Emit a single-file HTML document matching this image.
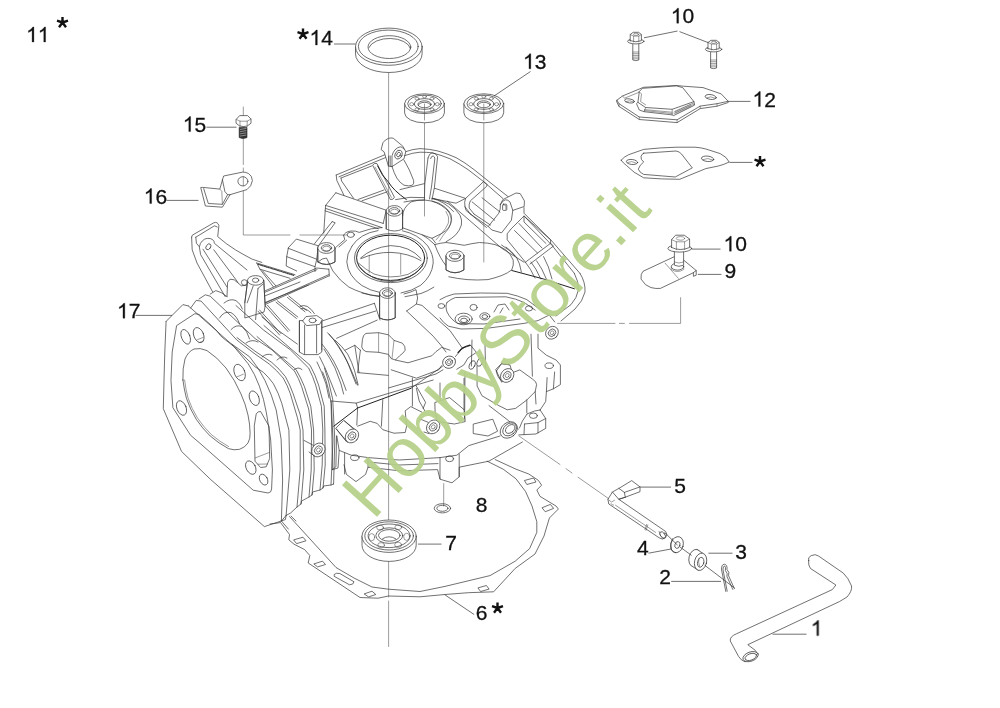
<!DOCTYPE html>
<html>
<head>
<meta charset="utf-8">
<title>Parts diagram</title>
<style>
html,body{margin:0;padding:0;background:#fff;}
body{width:1000px;height:708px;overflow:hidden;position:relative;font-family:"Liberation Sans",sans-serif;}
svg{position:absolute;left:0;top:0;display:block;}
.l{fill:none;stroke:#333;stroke-width:0.7;stroke-linejoin:round;stroke-linecap:round;}
.t{fill:none;stroke:#4a4a4a;stroke-width:0.55;stroke-linejoin:round;stroke-linecap:round;}
.w{fill:#fff;stroke:#333;stroke-width:0.7;stroke-linejoin:round;stroke-linecap:round;}
.ld{fill:none;stroke:#333;stroke-width:0.7;}
.n{font-family:"Liberation Sans",sans-serif;font-size:21px;fill:#111;stroke:#111;stroke-width:0.3;}
.g1{fill:#111;stroke:#111;stroke-width:28;}
.a{fill:none;stroke:#111;stroke-width:2.4;stroke-linecap:butt;}
#labels{opacity:0.999;}
</style>
</head>
<body>
<svg width="1000" height="708" viewBox="0 0 1000 708">
<defs>
<g id="ast"><path class="a" d="M0,0V-5.6M0,0L5.5,-1.8M0,0L-5.5,-1.8M0,0L3.5,4.7M0,0L-3.5,4.7"/></g>
</defs>
<rect width="1000" height="708" fill="#fff"/>

<!-- ENGINE BLOCK -->
<g id="block">
<!-- ===== left ear / arm ===== -->
<g class="l">
<path d="M191.6,237.2Q191.3,235 194,234.2L213.8,222.8Q217.5,221.2 218.9,225.6L217.7,236.6Q226,244 235.4,249.8Q244,255 252.2,259.2L261.8,262.4"/>
<path d="M195.8,237.2L214.4,225.8L217.2,227M195.8,237.2L196.4,243.2L199.4,246.8Q200,243 202.4,240.8Q204.5,238.6 207.2,238.4Q210.5,238 212.6,239.6Q214.5,241 214.4,243.2"/>
<path d="M191.6,237.2L192.2,249.8L197,263L212.6,291.8"/>
<path d="M199.4,247.2L200.6,254.6L225.2,296.6M203,249.2L227,287"/>
<ellipse cx="208.4" cy="246.8" rx="2.2" ry="3.2" transform="rotate(35 208.4 246.8)"/>
<path d="M213.8,249.8L237.8,282.2M215,243.8L247,270"/>
<path d="M227,296.6L227.6,282.2L230,279.2L234.2,279.8L241.4,285.8L246.2,285.2"/>
<ellipse cx="244.4" cy="282.5" rx="3" ry="2.8"/>
<!-- ribbed edge -->
<path d="M256.7,263L295,274.7M260,269.2L290,278.3M256.7,263L260,269.2L273.3,286.7M262.5,270.8L276,286"/>
<path stroke-dasharray="0.9,1.1" stroke-width="1.3" stroke="#444" d="M258.4,264.4L294,275.4"/>
</g>
<!-- post near cylinder -->
<g>
<path class="w" d="M247.6,281L244.8,303V318L264,312L265.2,306L263.8,281Z" stroke="none"/>
<path class="l" d="M247.6,281L244.8,302.8M263.8,281L265.2,306.4M258,288.4L255.6,319.6M253.2,286L247.2,302.8M258,288.4L263,284"/>
<ellipse class="w" cx="255.6" cy="280.4" rx="8.1" ry="4.8"/>
<ellipse class="l" cx="255.6" cy="280.2" rx="3.2" ry="2.2"/>
</g>
<!-- rails from post to crankcase -->
<g class="l">
<path d="M265.2,290.8L316.8,268L328.8,269.2M265.2,292.2L317,269.6M265.8,302.8L328.8,274.6M265.8,304.2L328.8,276M328.8,269.2L329.4,276"/>
<!-- small box -->
<path d="M296.7,239.2L318.3,245.8L316.7,259.2L288.3,248.3ZM288.3,248.3L286.7,256.7L315,266.7L316.7,259.2M286.7,256.7L286.2,266L296.7,271M315,266.7V271.5"/>
<!-- rod -->
<path d="M332.2,221.6L335.2,222.8L318.4,245.8M332.2,221.6L314.6,243.6"/>
</g>
<!-- boss near small box -->
<g>
<path class="w" d="M317.8,248V262Q326.5,267 335,262V248Z" stroke="none"/>
<path class="l" d="M317.8,248V262Q326.5,266.8 335,262V248"/>
<ellipse class="w" cx="326.4" cy="248" rx="8.6" ry="5.4"/>
<ellipse class="l" cx="326.4" cy="248" rx="5.2" ry="3.3"/>
<ellipse class="t" cx="326.6" cy="248.6" rx="4" ry="2.4"/>
</g>
<!-- lug with small hole -->
<g class="l">
<ellipse cx="350.8" cy="234.8" rx="3.6" ry="2.6"/>
<path d="M343.6,235.4Q344.5,232 350.8,231Q356,230.6 359.2,232.4L371.2,228.8L382,227.6"/>
<path d="M343.6,235.4L344.8,239.6L336.4,246.8M346.6,240.2L339,247"/>
</g>
<!-- angled bar -->
<g class="l">
<path d="M335.8,192.8L386.2,210.2M335.8,192.8L325.6,205.4L383.2,223.4M325.6,208.4L382,227.6M325,210.8L378.4,228.8M325.6,205.4L324.4,222.8L323.8,233"/>
<path d="M386.2,210.2L383.2,223.4"/>
</g>
<!-- upper slab -->
<g class="l">
<path d="M336.2,175L386.6,154M336.2,175L336.8,180.4L344,195.4M341,178L371.6,166M341,178L341.6,181L353.6,198.4M339,176.8L385.5,157.6"/>
<path d="M362,200.8L387.2,191.8M358,199.5L384,190"/>
<path d="M372.8,164.8Q374.5,162.6 377,163.6L394.4,197.2Q393.5,200 390.8,199.6Z"/>
<path d="M375,167L391.4,197.4" class="t"/>
<path stroke="#222" stroke-width="1" d="M377.6,166Q382,176 388.4,182Q393,190 406.4,199.6"/>
</g>
<!-- top lug -->
<g>
<path class="w" d="M381.2,149.2L383,142.6Q385,139.6 388.4,138.4Q391,137.6 393.2,138.2L402.8,146.2L405.8,151.6L404,158.8L392,166.6L388.4,166L386.6,160L384.2,152.2Z"/>
<path class="l" d="M392,166.6L392,155.8Q393,152 395,149.8Q397.5,147.2 400.4,146.8Q402.6,147 404,149.2M388.4,166L388.7,156M390.2,166.4V156"/>
<ellipse class="l" cx="398.6" cy="154.6" rx="3.4" ry="4.6" transform="rotate(25 398.6 154.6)"/>
<ellipse class="l" cx="398.6" cy="154.6" rx="1.7" ry="2.4" transform="rotate(25 398.6 154.6)"/>
</g>
<!-- rim arcs -->
<g class="l">
<path d="M405.8,151.6Q413,149 420,148.6Q430,149 438,151Q447,153.6 456,157.6Q465,162.5 474,169.6L492,184L508.8,197.2"/>
<path d="M404.6,155.6Q413,152.6 420,152.2Q427,152.2 432,152.8Q441,155 450,158.8Q459,163.4 468,169.6L483.6,181.6L502.8,198.4"/>
<!-- pocket under lug -->
<path d="M392,166.6Q394,173 396.8,178Q400,183 404,185.2Q409,186.6 412.4,185.2Q414.4,183.6 413.6,180.4Q410,170 404,160"/>
<!-- U rib -->
<path d="M428,158Q429,153.5 432,152.8Q435.8,152.8 437.6,156.6L434.4,187.6L432,199.6M428,158L424.8,184L424.4,199.6M430.6,158.6Q431.6,155.6 433.2,156Q434.8,156.6 434.8,158.8L431.6,186L429.5,199"/>
<!-- panel right of rib -->
<path d="M434.4,188.2L465.6,198.4L456,203.2L432,198.4"/>
<!-- Y rib -->
<path d="M483.6,181.6L465.6,198.4Q464,202 465,206.8L470.4,214M483.6,181.6L487.2,184.6L486.6,186.4L470.4,200.8Q468.6,204 469.2,208L474,214"/>
<!-- arcs left of rib -->
<path d="M400,189.6L424.5,183.6M395.6,199.6Q410,196 424.4,197.6M404,202Q414,199.6 424.4,200"/>
<path d="M432,198.4Q444,201 453.6,211.6M432,201.2Q442,204 449,212"/>
</g>
<!-- right lug -->
<g>
<path class="w" d="M500.4,204.4L502.8,199.6L508.8,196.6L516,193L520.2,193.6L524.4,200.8L524.2,206.5L512.8,210.4L510,202Q508,199.6 505.5,199.8Q502.5,200.6 501.5,203Z"/>
<path class="l" d="M500.4,204.4L500.2,209L498.8,213.2L488.3,226.5L491.8,230L501.6,232.8L511.4,220.2L512.8,210.4"/>
<rect class="l" x="502.6" y="204.2" width="4.2" height="6.2" rx="1"/>
<path class="t" d="M503.6,205.2H505.8V209.4"/>
</g>
<!-- ===== central flange & bore ===== -->
<g class="l">
<!-- flange outer (partial ellipse) -->
<path d="M352,246Q360,233.5 378,230.6M402.5,230.8Q418,234 427.8,246Q433.6,255 433.2,263Q432,276 420.8,285.2Q412,291 401,293"/>
<path d="M352,246Q346.6,254 346.8,262Q348,276 362,285.6Q370,290.6 379.6,292.4"/>
<ellipse cx="390.9" cy="258.1" rx="36.4" ry="24.5"/>
<ellipse cx="390.6" cy="257.8" rx="34" ry="22.6" stroke="#222" stroke-width="1"/>
<path d="M357.6,262.4Q366,270 374,274Q390,279.6 408,274.4Q418,270 424,262" stroke-width="0.6"/>
<path d="M358.6,266Q372,282 392,281.6Q412,280 422.6,266" />
<path d="M360.6,258Q372,247.6 390.5,245.6Q410,246 421,258.6"/>
<path d="M361,258.6Q376,252 391,252.4Q408,253 421,260.6"/>
<path d="M369.2,255.3V272.8M400.7,254.4V274.2" class="t"/>
</g>
<g class="l"><path d="M318,262Q322,258 326.5,258L332.9,271Q340,281 348.9,287.1Q362,294 379.4,296.7M433.9,287.1Q428,291 421,293.5L405,296.7"/></g>
<!-- top boss -->
<g>
<path class="w" d="M386.2,211V229Q394.4,233 402.6,229V211Z" stroke="none"/>
<path class="l" d="M386.2,211V229M402.6,211V229"/>
<ellipse class="w" cx="394.4" cy="210.9" rx="8.2" ry="5.3"/>
<ellipse class="l" cx="394.4" cy="210.9" rx="5.3" ry="3.3"/>
<ellipse class="t" cx="394.6" cy="211.6" rx="4" ry="2.3"/>
</g>
<!-- bottom boss -->
<g>
<path class="w" d="M379.6,293V318Q387.4,322 395.2,318V293Z" stroke="none"/>
<path class="l" d="M379.6,293V318Q387.4,321.6 395.2,318V293"/>
<ellipse class="w" cx="387.4" cy="293.1" rx="7.8" ry="5.3"/>
<ellipse class="l" cx="387.4" cy="293.1" rx="5" ry="3.3"/>
<ellipse class="t" cx="387.6" cy="293.8" rx="3.8" ry="2.3"/>
</g>
<!-- left bearing seat -->
<g class="l">
<path d="M402.6,216Q402.6,208 411,201.9Q418,199.6 425,200.1Q433,200.6 439,203.3Q445,206.4 448.8,211Q452,215 451.6,219.4Q451,224 448.8,227.8Q446,231 441.8,233.4L432,238.3L422.2,234.8L402.6,227.8"/>
<path d="M433.4,198.4Q442,200.4 448.8,204Q456,208.6 460,215.2Q462.4,220 461.4,225Q459.6,230.6 455.8,234.8Q451.6,238.8 446,241.8"/>
<path class="t" d="M446,211.5Q450,217 448.4,223Q446,229 441,234L436,240M447.4,210Q452.6,217 450.6,224Q448,230.5 443.4,235L439.5,241"/>
<path d="M432,238.3L435.6,243M422.2,234.8Q428,238 434.8,244.6"/>
</g>
<!-- right bearing seat -->
<g class="l">
<path d="M434.8,244.6Q440,243 446,242.5Q455,243.6 464.2,245.3Q472,243.4 479.6,242.5Q488,242.8 495,244.6Q501,246.6 506.2,250.2Q511,254.6 513.2,260Q514,265 511.8,269.8Q508,273 502,275.4Q495,278 488,279.6Q477,280.4 467,279.6Q457,278.6 448.8,276.8"/>
<path d="M434.8,244.6Q437,251 440.4,257.2Q443,262 446,265.6"/>
<path stroke="#222" stroke-width="1" d="M511.8,270.5L543.6,279L574.4,288.8"/>
<path d="M447.4,201.2L501.6,248.2L524,262.2"/>
<path d="M506,247Q512,251.6 516.4,257.2Q520,263 521.4,272M501.6,245Q510,250 515,256M525.4,262.2Q530.6,268.4 535,278M531,262Q536,268 540.8,279M536.6,260.8Q542,268 546.4,279M543.6,256.6Q549,266 552,279"/>
</g>
<!-- right boss -->
<g>
<path class="w" d="M446,256V270Q455,275.6 463.9,270V256Z" stroke="none"/>
<path class="l" d="M446,256V270Q455,275.4 463.9,270V256"/>
<ellipse class="w" cx="455" cy="255.8" rx="9" ry="5.6"/>
<ellipse class="l" cx="455" cy="255.8" rx="5.6" ry="3.3"/>
<ellipse class="t" cx="455.2" cy="256.5" rx="4.2" ry="2.3"/>
</g>
<!-- right housing wall -->
<g class="l">
<path d="M524,207.6L524,213.2L552,241.2L580,273.4M525.4,217.4L552,245.4L574.4,273.4"/>
<path d="M511.4,228.6L524,216L550.6,239.8V243.3L525.4,262.2L507.2,239.8V234.2Z"/>
<path d="M514.5,230.5L537.5,253M524,216V222L546,243.5M519,223.5L542,248"/>
<path d="M550.6,243.3L553.5,246L530,264"/>
<!-- channel next to Y rib -->
<path d="M470.4,214L488.3,226.5M474,214L490.4,225M465,206.8L466,210.4L486.4,227.4M472.2,202L494.6,220.2M482,197.8L500,212"/>
</g>
<!-- ===== CYLINDER ===== -->
<g class="l">
<!-- head plate outer -->
<path d="M166.1,321.4L164.8,352L164,380L163.3,408.7L181.5,451.4L210.2,479.1L264.4,526.6L281.2,521L285.4,519.6L286.1,515.4"/>
<path d="M166.1,321.4L182.9,304.6L188.5,306"/>
<!-- head plate inner face -->
<path d="M171,380L172.2,352L176.6,325.6L194.8,313.7L199,314.4L211.6,325.6L217.2,331.2Q220,336 224.2,338.9L234,346.6L248.2,363.8Q255,374 259.4,386.2Q264,399 266.4,412.8L270.6,439L272.4,470L271.6,489Q271.5,492.6 268,493L253.2,490.2L200,443.3L190.6,435.3L173.1,408Z"/>
<!-- bore -->
<path d="M182.9,380Q184,389 186.4,398.2Q190,409 196.2,419.2Q202,428 210.2,436Q219,443.6 228.4,448.6Q234,450.6 239.6,449.3Q245,447.5 248,443Q250.4,438.6 250.1,433.2Q250,424 248,415Q245.6,404 241,394Q235,380 226,368Q217,357 207,350.6Q200,347.4 194,349Q188,351.6 185,359Q182.4,368 182.9,380Z"/>
<path class="t" d="M184.6,380Q185.6,389 188,398Q191.6,408.6 197.6,418.2Q203.6,427 211.4,434.6Q219.6,441.6 228.6,446.6"/>
<!-- holes -->
<ellipse cx="185.7" cy="336.8" rx="4.2" ry="7.7" transform="rotate(-22 185.7 336.8)"/>
<ellipse cx="198.7" cy="335.1" rx="4.9" ry="7.9" transform="rotate(-22 198.7 335.1)"/>
<path class="t" d="M196.6,340L203.2,337.4M199,342.6L203.6,340.8"/>
<ellipse cx="239.6" cy="372.5" rx="5.2" ry="8.6" transform="rotate(-22 239.6 372.5)"/>
<path class="t" d="M236.6,377L243.4,374.2"/>
<ellipse cx="254.3" cy="398.2" rx="4.6" ry="7.6" transform="rotate(-22 254.3 398.2)"/>
<ellipse cx="181.5" cy="408" rx="4.6" ry="7.6" transform="rotate(-22 181.5 408)"/>
<ellipse cx="250.8" cy="467.6" rx="4.6" ry="7.2" transform="rotate(-28 250.8 467.6)"/>
<ellipse cx="263.6" cy="479.6" rx="3.8" ry="5.8" transform="rotate(-28 263.6 479.6)"/>
<!-- slot -->
<path d="M256.4,413.6Q258,411 260.6,411.5L269,426.2L269.7,458.4L266.2,466.8L260.6,467.5L255,461.2L254.3,426.2Z"/>
<path class="t" d="M255,458L269.4,452.4M258,464.2L267.6,464"/>
</g>
<!-- fins -->
<g class="l">
<path d="M188.5,306L230,342.8L249.6,356.8Q259,368 265,380.6Q272,395 276.2,410L281.1,439.1L282.6,480L281.4,521"/>
<path d="M232,344.6L255,366.7L263.5,372.4Q269,377.6 273.4,383.7Q278.6,393 281.8,403.4L288.9,430L289.8,470L286.1,515.4"/>
<path d="M190.6,308.1L196.2,300.4L201.1,301.1L236.8,340L255,354L269.1,363.9Q277,370.4 283.2,378Q287.6,385.6 290.3,393.6L297.4,417.6L300.2,430L300.2,470L297,507"/>
<path d="M237,337.6L255,351.2L271.9,362.5Q279.6,369 285.4,376.6Q290,385 293.1,393.6L300.2,414.7L303,430L303.8,470L301,504"/>
<path d="M199,299L205.3,294.8L210.2,296.2L255,338.5L271.9,349.8L294.5,371Q298.8,378.6 301.6,386.5L308.7,409.1L311.5,430L311.2,470L309,497"/>
<path d="M257,336.6L259.2,338.5L296,369.5Q301,378 304.4,386.5L310.8,406.3L313.6,430L314.2,470L312,495"/>
<path d="M210.2,294.1L215.8,290.6L221.4,292.7L227,296.6M236,305.6L263.5,330L290.3,349.8L308.7,368.1Q313,376.6 315.7,385.1L321.4,406.3L322.8,430L322.2,465L320,490"/>
<path d="M264,325.6L269.1,330L310.1,365.3Q315.4,375 318.6,385.1L324.2,406.3L324.9,430L325.2,465L323,488"/>
<path d="M262,317L277.6,330L297.4,344.1M322.6,372Q326.4,380 328.4,389.3L331.3,403.4L333,440L331,485"/>
<path d="M324.5,368Q329,381 332.7,399.2L334.8,440L333.6,484"/>
<!-- fin bottoms -->
<path d="M281.4,521L286.1,515.4L290.6,513L297,507L301,504L301.6,501L309,497L312,495L312.6,492L320,490L323,488L323.6,486L331,485L333.6,484"/>
<!-- barrel bumps between fins -->
<path d="M219.5,318Q224,310.6 231,312.6Q237,316 239.6,324M231,329.6Q236,324 242,326.6Q247.6,331 249.6,339M246,343Q252,338.6 258,342M224,303Q230,298 236,300.6Q241,304 242.4,309"/>
<path d="M262,357Q267,352.6 272,355M277,360Q282,355 287,358M294,370Q298,366 302,369.6"/>
</g>
<!-- top of cylinder: small fins and rails -->
<g class="l">
<path d="M265,302.5L308.4,285M264.6,296L300,282"/>
<path d="M258,311.2L279.6,335M259.6,310L281,333.6M265.8,306.4L288,331.6M267.4,305.2L289.6,330.4M276,302.2L296.4,318.4M277.4,300.8L297.8,317M287.4,297.4L305,311.8M288.8,296L306.4,310.4"/>
<path d="M300,306.4Q303.6,304.6 307.2,306.4Q311.6,309 314.4,313.6M301,308.6Q306,307.6 311,313"/>
<path d="M321,321.4L374.4,303.3M321.2,327.8L375.8,311M336.6,338.3L377.2,320.1M374.4,303.3L380,320"/>
<!-- curved fins behind post 2 -->
<path d="M327.5,332.7Q334,339 338,346Q344,355 349.2,365.6L357.6,385.2M329,334Q340,346 347,361L356,384"/>
<path d="M319.6,356.8Q326,369 330.8,382L336.4,396M321,342.8Q328,351 333.6,361Q338.6,370 342,379.2L346.2,390.4M335,340Q342,346 347.6,354Q352,362 354.6,370.8L358.1,384.8"/>
<path d="M317,362Q322,372 326,384L329,398M324,349Q330,358 335,368L341,384L343.6,394"/>
</g>
<!-- post 2 -->
<g>
<path class="w" d="M299.4,321V352L304,354.6H318L321.8,352V321Z" stroke="none"/>
<path class="l" d="M299.4,321V352M321.8,321V350M304.6,325V354M316.6,325V353"/>
<path class="w" d="M302.8,320.6L306,316.6L316.8,315.6L322.4,319.4L319.6,324.4L307,325.6Z"/>
<ellipse class="l" cx="312.6" cy="320.4" rx="3.6" ry="2.3"/>
</g>
<!-- ===== crankcase interior & lower ===== -->
<g class="l">
<!-- cavity blob -->
<path d="M362.5,339Q363,334.6 366,333.4L378.6,332.7L388.4,334.8Q391.6,337.6 394,340.4L402.4,343.2Q405.6,346 405.2,350.2Q403,353.6 399.6,355.8L395.4,360L391.2,358.6L388.4,354.4L378.6,352.3L366,351.6Q362.4,350 361.8,347.4Z"/>
<path class="t" d="M378.6,332.7V352.3M394,340.4L392,358.6"/>
<path d="M345,350.2L354.8,345.3L360.4,350.2M354.8,345.3L359,372.6M360.4,350.2L357.6,372.6L388.4,375.4"/>
<path d="M395.4,360L408,362.8L422,358.6L431.8,355.8L436,351.6L441.6,347.4L450,350.2"/>
<path d="M391.2,369.8L416.4,378.2L438.8,369.8L441.6,365.6M388.4,388L436,374L443,369.8"/>
<!-- governor shaft -->
<path d="M406.6,311L416.4,304L422,305.4L450,330.6L462.4,348.2M406.6,311L433.2,336.2L441.6,346L446,352"/>
<path d="M404,294Q412,292 416,289.6L417.6,298L416.4,304M380,296Q370,295.6 362,293"/>
<!-- box below fins -->
<path d="M331,401L356.2,403.1L357.6,408L356.8,425M331,401L332,440L332.4,469.6M356.2,403.1L433.2,380M336.6,436L335.9,466.8L332.6,469.6"/>
<path stroke="#222" stroke-width="1" d="M357.6,408L333.8,426.2M357.6,408L410.8,388.4"/>
<path d="M357.6,426.2L370.2,421.3L377.2,423.4L382.8,429.7L394,433.2L405.2,432.5L406.6,426.2L405.2,410.8L410.8,406.6L422,412.2M382.8,399.6L381.4,426.2M416.4,388.4L419.2,401L424.8,410.8"/>
<!-- base flange -->
<path d="M336.8,436L339.2,450.4L351.2,455.2L368,457.6L399.2,460L440,457.6L456.8,455.2L468.8,445.6L500,436"/>
<path d="M344,464.8L346.4,474.4L356,481.6L365.6,474.4L368,467.2L399.2,470.8L437.6,469.6L440,479.2L452,482.8L459.2,476.8L459.2,467.2L488.8,461.2L522.4,442"/>
<path d="M344.6,453V474M368,457.6V467.2M440,457.6V479M459.2,454V476.8M339.2,450.4L338,468L332.4,469.6"/>
<path d="M368,462L399.2,465L438,463.6"/>
<ellipse cx="354.8" cy="457.7" rx="4.2" ry="2.8"/>
<ellipse cx="449.6" cy="458.8" rx="4" ry="2.9"/>
<!-- interior castings -->
<path d="M435.2,402.4L449.6,397.6L464,409.6L465.2,421.6L454.4,424L437.6,421.6L435.2,412Z"/>
<path d="M473.6,424L492.8,419.2L497.6,431.2L488,436L473.6,433.6Z"/>
<path d="M464,378.4V409.6M440,383V400M412.4,378V406M423.2,408.4L425.6,402.4L416,385.6"/>
<path d="M410.8,388.4L442.4,366.4"/>
</g>
<!-- bolt bosses lower -->
<g>
<g id="bb1"><path class="w" d="M336,428.6L347.6,442.4L356.6,431.6L344,420.6Z" stroke="none"/><path class="l" d="M336.4,429L346.4,441.6M344.6,421L355.6,430"/><ellipse class="w" cx="352" cy="436" rx="6.2" ry="7.4" transform="rotate(40 352 436)"/><ellipse class="l" cx="352" cy="436" rx="3.6" ry="4.4" transform="rotate(40 352 436)"/><ellipse class="t" cx="352" cy="436" rx="1.8" ry="2.2" transform="rotate(40 352 436)"/></g>
<g><ellipse class="w" cx="318.4" cy="450" rx="6.2" ry="7.4" transform="rotate(40 318.4 450)"/><path class="l" d="M304,440.4L313.4,445.4M309,452L314.6,456"/><ellipse class="l" cx="318.4" cy="450" rx="3.6" ry="4.4" transform="rotate(40 318.4 450)"/><ellipse class="t" cx="318.4" cy="450" rx="1.8" ry="2.2" transform="rotate(40 318.4 450)"/></g>
<g><path class="l" d="M420,419L428.4,422.4M424,432L429,433.6"/><ellipse class="w" cx="433.2" cy="426.9" rx="6.2" ry="7.4" transform="rotate(40 433.2 426.9)"/><ellipse class="l" cx="433.2" cy="426.9" rx="3.6" ry="4.4" transform="rotate(40 433.2 426.9)"/><ellipse class="t" cx="433.2" cy="426.9" rx="1.8" ry="2.2" transform="rotate(40 433.2 426.9)"/></g>
<g><path class="w" d="M496,369.2L501.6,363.6L510,365L512,372L502,382Z" stroke="none"/><path class="l" d="M496.4,371L501.6,363.6L509,364.6M496.4,371Q497,377 501.6,381"/><ellipse class="w" cx="507.2" cy="375.5" rx="6.2" ry="7.4" transform="rotate(40 507.2 375.5)"/><ellipse class="l" cx="507.2" cy="375.5" rx="3.6" ry="4.4" transform="rotate(40 507.2 375.5)"/><ellipse class="t" cx="507.2" cy="375.5" rx="1.8" ry="2.2" transform="rotate(40 507.2 375.5)"/></g>
<g><ellipse class="w" cx="552" cy="332.8" rx="6" ry="6.8" transform="rotate(45 552 332.8)"/><ellipse class="l" cx="552" cy="332.8" rx="3.4" ry="4" transform="rotate(45 552 332.8)"/><ellipse class="t" cx="552" cy="332.8" rx="1.7" ry="2" transform="rotate(45 552 332.8)"/></g>
</g>
<!-- right side ear & rounded box -->
<g class="l">
<path d="M531,334.2L532.4,376.2M538,334.2L538,348.2L546.4,355.2L556.2,360.1L560.4,365L560.4,384.6L553.4,388.8L546.4,391.6L545.7,401.5L540.1,410"/>
<path d="M547.1,377.6L546.4,391.6M554.6,372L553.4,388.8"/>
<ellipse cx="549.2" cy="365.7" rx="4.2" ry="2.8"/>
<ellipse cx="533.4" cy="415.7" rx="4" ry="2.7"/>
<path d="M514.2,372L519.8,369.9L532.4,379Q536.6,381.6 536.6,384.6L535.2,391.6L526.8,400L515.6,408.4L507.2,409.8L498.8,405.6L482,395.8L477.1,386L477,366"/>
<path d="M526.8,400L526.8,412.6M489,405.6L507.2,419.6L518.4,429.1M535.2,391.6L536,404"/>
<path d="M472,340L471.4,366M465,372L464.6,420M485,345L485.6,368"/>
<!-- ear bottom -->
<path d="M540.1,410L545.7,418.5L545.7,428.4L535.9,434L518.9,434.9M527,414L534.5,411L540.1,410M527,414Q521.6,421 519.4,428M545.7,418.5L538,422.6L524.5,424M538,422.6V433M524.5,424L524,434.5"/>
<!-- governor arm -->
<path d="M455.4,356.6L462.4,348.2L470.8,345.4L476.4,352.4L468,358L463.8,365L456.8,369.2"/>
<path stroke="#222" stroke-width="1.2" d="M458,352.6Q462,347 470,345.2"/>
<ellipse cx="472.2" cy="365" rx="2.6" ry="4.6" transform="rotate(25 472.2 365)"/>
<ellipse cx="480" cy="362" rx="2.6" ry="4.6" transform="rotate(25 480 362)"/>
</g>
<g>
<ellipse class="w" cx="449.1" cy="362.2" rx="6.6" ry="6" transform="rotate(-30 449.1 362.2)"/>
<ellipse class="l" cx="449.1" cy="362.2" rx="3.6" ry="3.2" transform="rotate(-30 449.1 362.2)"/>
<ellipse class="t" cx="449.1" cy="362.2" rx="1.8" ry="1.6"/>
</g>
<!-- shaft bushing -->
<g>
<ellipse class="w" cx="508.8" cy="430" rx="7.4" ry="9.4" transform="rotate(50 508.8 430)"/>
<ellipse class="l" cx="509.6" cy="429.4" rx="5.6" ry="7.6" transform="rotate(50 509.6 429.4)"/>
<ellipse class="l" cx="510.2" cy="429" rx="3.6" ry="5.4" transform="rotate(50 510.2 429)"/>
</g>
<!-- cover seat (breather) -->
<g class="l">
<path d="M440,299.6Q446,296 454,294Q480,292.4 507.2,293.3Q518,295.6 526.8,299.6L538,308L549.2,315L554.8,322"/>
<path d="M440,318Q443,322.6 448.4,326.2L461,329L486,328.4L524,323.4L538,320.6L549.2,315"/>
<path d="M447,302.4Q451,299 455.4,297.5L505.8,296.8Q516,298.6 524,302.4L535.2,310.1"/>
<path d="M447,302.4Q445,306 447,312Q451,320 458,323.6L484,324L520,319"/>
<ellipse cx="441.4" cy="306" rx="3.4" ry="2.4"/>
<ellipse cx="473.6" cy="307.4" rx="3.6" ry="3"/>
<ellipse cx="484.8" cy="316.4" rx="5" ry="3.6"/><ellipse cx="484.8" cy="316.6" rx="2.8" ry="2"/>
<ellipse cx="463.6" cy="319" rx="8.6" ry="5.8"/><ellipse cx="464" cy="319.6" rx="5.6" ry="3.6"/><ellipse cx="464" cy="320.4" rx="3.4" ry="2.2"/>
<ellipse cx="529" cy="308.4" rx="3.6" ry="2.6"/>
<path d="M494,312L498,305L505,304L509,310M500,313L503,308"/>
</g>
<!-- lower right outer wall (big curve) -->
<g class="l">
<path d="M580,273.4Q585.6,282 585,292Q583,301 575,309L561,321"/>
<path d="M574.4,273.4Q579,282 578.4,290Q577,298 571,304.6L556,316"/>
</g>

</g>
<!-- PARTS -->
<g id="parts">
<!-- long centre lines -->
<path class="t" d="M388.6,72.5V597M388.6,601V646.5"/>
<path class="t" d="M424.5,107V216"/>
<path class="t" d="M483.8,107V262"/>

<!-- 14 seal -->
<g id="p14">
<path class="w" d="M355.5,46.7V53.9A33.3,18.6 0 0 0 422.1,53.9V46.7"/>
<ellipse class="w" cx="388.8" cy="46.7" rx="33.3" ry="18.6"/>
<ellipse class="l" cx="388.3" cy="46.4" rx="29.9" ry="16.3"/>
<ellipse class="l" cx="389.4" cy="47.1" rx="21.4" ry="11.4"/>
<path class="l" d="M369,47.5A21,11.4 0 0 1 410.4,48.5"/>
<path class="ld" d="M334,44H355.5"/>
</g>

<!-- 13 bearings -->
<defs><g id="brg">
<path class="w" d="M-19.9,0V9.2A19.9,9.9 0 0 0 19.9,9.2V0"/>
<ellipse class="w" cx="0" cy="0" rx="19.9" ry="9.9"/>
<ellipse class="l" cx="0" cy="0" rx="16.8" ry="8.6"/>
<ellipse class="l" cx="0" cy="0.3" rx="10.2" ry="5.4"/>
<ellipse class="l" cx="0" cy="0.6" rx="6.6" ry="3.5"/>
<path class="l" d="M-6.2,1.8A6.2,3.2 0 0 1 6.2,1.8"/>
<g class="t">
<ellipse cx="-12.8" cy="0.5" rx="2" ry="1.6"/><ellipse cx="12.8" cy="0.5" rx="2" ry="1.6"/>
<ellipse cx="-7.5" cy="-5" rx="2" ry="1.4"/><ellipse cx="7.5" cy="-5" rx="2" ry="1.4"/>
<ellipse cx="-7.5" cy="5.6" rx="2" ry="1.4"/><ellipse cx="7.5" cy="5.6" rx="2" ry="1.4"/>
<ellipse cx="0" cy="-7" rx="2" ry="1.2"/>
</g>
</g></defs>
<use href="#brg" x="424.5" y="103.7"/>
<use href="#brg" x="483.8" y="103.7"/>
<path class="t" d="M424.5,104V120M483.8,104V120"/>
<path class="ld" d="M530.5,71.5L494,96"/>
<!-- 7 bearing (bottom) -->
<g id="p7" transform="translate(389.1,536.2)">
<path class="w" d="M-27.1,0V9A27.1,16.2 0 0 0 27.1,9V0"/>
<ellipse class="w" cx="0" cy="0" rx="27.1" ry="16.2"/>
<ellipse class="l" cx="0" cy="-0.3" rx="24.3" ry="14.1"/>
<ellipse class="l" cx="0" cy="-0.4" rx="21" ry="11.8"/>
<ellipse class="l" cx="0.2" cy="-0.6" rx="13.5" ry="7.8"/>
<ellipse class="l" cx="0.2" cy="-0.8" rx="10.8" ry="5.8"/>
<path class="l" d="M-6.6,2.6Q0,-1.6 6.6,2.6"/>
<g class="t">
<ellipse cx="-17.4" cy="1" rx="3" ry="3.6"/><ellipse cx="17.6" cy="0.6" rx="3" ry="3.6"/>
<ellipse cx="-9" cy="-8.6" rx="3.4" ry="2.4"/><ellipse cx="9.2" cy="-9" rx="3.4" ry="2.4"/>
<ellipse cx="-8" cy="9" rx="3.4" ry="2.6"/><ellipse cx="9" cy="8.6" rx="3.4" ry="2.6"/>
</g>
</g>
<path class="ld" d="M418,544.1H441.5"/>

<!-- 10 bolts top -->
<defs><g id="bolt">
<path class="w" d="M-3,3V20.5Q0,21.8 3,20.5V3Z"/>
<path class="t" d="M-3,12.5H3M-3,14.2H3M-3,15.9H3M-3,17.6H3M-3,19.3H3"/>
<ellipse class="w" cx="0" cy="1.8" rx="8.2" ry="2.6"/>
<path class="w" d="M-5.6,1.2V-5L-2.6,-7.2H2.8L5.6,-5V1.2Q0,3.4 -5.6,1.2Z"/>
<path class="t" d="M-5.6,-5L-2.2,-3.4H3L5.6,-5M-2.2,-3.4V2.4M3,-3.4V2.4"/>
<ellipse class="t" cx="0.3" cy="-5.2" rx="2.6" ry="1.1"/>
</g></defs>
<use href="#bolt" x="635.8" y="39.5"/>
<use href="#bolt" x="713.6" y="47.5"/>
<path class="ld" d="M677.5,31L644,37.8M679.5,31.6L708.2,42.6"/>

<!-- 12 cover -->
<g id="p12">
<path class="w" d="M616.9,100.2L622.5,96L639.3,89L643.5,87.3L676.4,85.5L683.4,86.2L703,87.6L721.2,93.9L728.2,101.3L728.2,102.5L717,106.2L700.2,108.6L677.1,122.6L639.3,119.5L619,106.4L616.9,102.2Z"/>
<path class="l" d="M616.9,100.2L619,103.7L639.3,117L677.1,119.8L700.2,106.1L717,103.7L728.2,101.3"/>
<path class="t" d="M639.3,117V119.5M677.1,119.8V122.6M700.2,106.1V108.6M717,103.7V106.2M619,103.7V106.4"/>
<path class="t" d="M622.5,96L624.5,98.2L641,91.5"/>
<path class="w" d="M642.8,88.3L676.4,85.9L682.7,87.6L693.9,101.6L672.2,109.3L645.6,107.5L637.9,102.3L639.3,91.8Z"/>
<path class="l" d="M637.9,102.3L636.5,103.7L639.3,110L644.2,111.7L672.2,114.9L673.6,115.6L694.6,105.1L693.9,101.6"/>
<path class="t" d="M645.6,107.5L644.2,111.7M672.2,109.3V114.9M639.3,91.8L641.5,94L640.6,101.5L645.6,104.8"/>
<path class="t" d="M644.5,109.6L672,112.2M644.4,110.6L672,113.5M674,112L693.5,103M674,113.5L694,104.2"/>
<path class="t" d="M676,110.5V113.5M678,109.7V112.7M680,108.8V111.8M682,107.9V110.9M684,107V110M686,106.1V109.1M688,105.2V108.2M690,104.3V107.3"/>
<ellipse class="l" cx="629.5" cy="100.9" rx="4.9" ry="2" transform="rotate(8 629.5 100.9)"/>
<ellipse class="l" cx="710.7" cy="97" rx="5.6" ry="2.4" transform="rotate(8 710.7 97)"/>
<path class="t" d="M626,101.5Q629.5,99.5 633.5,102M706.5,97.8Q710.5,95.6 715.5,98.3"/>
<path class="ld" d="M728.4,101.4H750.5"/>
</g>

<!-- gasket * -->
<g id="gsk">
<path class="l" d="M621.2,160.2Q624,156.8 628.4,154.8L643.7,149.4Q660,147.6 677,147.2L695,147.2Q701,147.6 705.8,149L720.2,153.6Q727,157 729.2,162Q724,164.6 718.4,166L705.8,168.6L679.7,179.3Q661,179.2 643.7,177.8Q633,172.6 626.6,165.6Q623,163 621.2,160.2Z"/>
<path class="l" d="M643.7,153.2L676.1,151Q679.5,151.6 681.5,154L692.3,167.9L675.2,177L643.7,174.4Q639.5,172.5 638.3,169.2Q639.5,165 643.7,162Q640.5,159.5 641,156.6Q641.6,154 643.7,153.2Z"/>
<ellipse class="l" cx="632" cy="162" rx="5.7" ry="2.5" transform="rotate(6 632 162)"/>
<ellipse class="l" cx="707.6" cy="158.8" rx="6.2" ry="2.7" transform="rotate(6 707.6 158.8)"/>
<path class="t" d="M627.5,162.5Q631.5,160.3 636,163M703,159.5Q707.5,157.2 713,160"/>
<path class="ld" d="M729.4,162.4H752.5"/>
</g>

<!-- 10 bolt + 9 tab -->
<g id="p9">
<path class="w" d="M673.6,257L643,271.3Q640.6,273.5 641,279Q645,286 651,287.6Q656,288.9 660.4,288.4L693,272.9L696.2,270.5L682.2,258.9Z"/>
<path class="l" d="M696.2,270.5V275.2L693.4,276.3V272.9"/>
<path class="t" d="M665.1,263.2L678.3,278.3"/>
<ellipse class="w" cx="677.5" cy="266.6" rx="6.2" ry="3.5"/>
<path class="t" d="M671.3,267V269.5Q677.5,273.5 683.7,269.5V267"/>
<path class="w" d="M674.4,251V265.2Q678.8,267.4 683.6,265.2V251Z"/>
<path class="t" d="M674.4,262Q678.8,264.2 683.6,262"/>
<ellipse class="w" cx="679.8" cy="248.4" rx="11.9" ry="3.7"/>
<path class="w" d="M671.6,247.5V239.6L675.6,235.2H684.2L689.6,239V247.5Q680,251.6 671.6,247.5Z"/>
<path class="t" d="M671.6,239.6L676.4,241.8H684.6L689.6,239M676.4,241.8V249.6M684.6,241.8V249.6"/>
<ellipse class="t" cx="680.4" cy="238.4" rx="4.2" ry="1.8"/>
<path class="ld" d="M691.6,249.1H720.5M697.8,274.4H721.5"/>
<path class="t" d="M680.6,297.7V323.4H629.5M624.4,323.4H619.4M615,323.4H557.5"/>
</g>

<!-- 15 screw, 16 bracket -->
<g id="p15">
<path class="t" d="M243.3,107V164.5M243.3,168V235H290M300,235H347"/>
<path class="w" d="M236.3,119.3L239.6,115.6H247.6L251,119V123.2Q247.5,127 243.5,126.6Q239,126.8 236.3,123.5Z"/>
<path class="t" d="M236.3,119.3L240,121.2H247.2L251,119M240,121.2V126.2M247.2,121.2V126.2"/>
<path d="M239.2,127.4H247V137.6Q243,139.4 239.2,137.6Z" fill="#333" stroke="#222" stroke-width="0.6"/>
<path d="M240,129.5L246.4,128.4M240,131.7L246.4,130.6M240,133.9L246.4,132.8M240,136.1L246.4,135" stroke="#ccc" stroke-width="0.6" fill="none"/>
<path class="ld" d="M206.5,127.2H236.5"/>
</g>
<g id="p16">
<path class="w" d="M200.8,187.9L205.4,206L222.4,207.2L230,194.7L246.9,189.6Q251.6,186.5 252.4,180.6Q252,175.5 248.6,173.6Q246,172 242.7,172.1L223.6,176L219.8,189.1L202.9,187.4Z"/>
<path class="l" d="M203.7,188.6L208.3,203.5L222.4,204.3L227.6,194.7"/>
<path class="l" d="M222.4,179.7L224.9,191.6L227.6,194.7L230,194.7"/>
<path class="t" d="M219.8,189.1L221.8,191.3L222.4,204.3"/>
<ellipse class="l" cx="242.9" cy="181.3" rx="5" ry="4.6"/>
<path class="t" d="M243.3,176.8V186"/>
<path class="ld" d="M166.5,200.4H198.5"/>
</g>

<!-- axis line for 5/4/3/2 -->
<path class="t" d="M519,436L560,464.5M566,468.7L572,473M578,477.2L612,501"/>
<!-- 5 lever -->
<g id="p5">
<path class="w" d="M618.9,499.4L665.7,531.5Q668,534.6 665.6,537.6Q662.6,540.4 659.3,537.9L608.8,504L607.9,499.4L612.4,492L618.9,488.4L631.7,480.6L640,486.9V491.7L625.3,497.2Z"/>
<path class="l" d="M618.9,488.4L624.4,492.4L640,486.9M624.4,492.4L625.3,497.2M612.4,492L618.9,499.4L625.3,497.2"/>
<path class="t" d="M607.9,499.4L611.5,502L614.5,500.3M615.5,505.2L655.6,532.4M611,503.6Q612,505.6 613.6,505.2"/>
<ellipse class="l" cx="662.6" cy="535" rx="2.2" ry="3.7" transform="rotate(-35 662.6 535)"/>
<path class="t" d="M659,531.2L660.6,535.8L664,538.6"/>
<path class="t" d="M646.6,524.4L645,529.6M647.8,525L646,530.4"/>
<path class="ld" d="M640.2,487.1H671"/>
</g>
<!-- 4 washer -->
<g id="p4">
<ellipse class="w" cx="677" cy="544.7" rx="6.2" ry="8.2" transform="rotate(18 677 544.7)"/>
<path class="l" d="M672.5,538.6Q669.6,543.8 671.4,549.4Q673,552.2 675.8,552.8"/>
<ellipse class="w" cx="677.4" cy="545" rx="2.5" ry="3.5" transform="rotate(18 677.4 545)"/>
<path class="ld" d="M648.5,553.2L671,549"/>
</g>
<!-- 3 bushing -->
<g id="p3">
<ellipse class="w" cx="695" cy="558.1" rx="6" ry="8.8" transform="rotate(14 695 558.1)"/>
<path d="M697.2,549.5L702.8,553.2L698.6,570.5L692.8,566.6Z" fill="#fff" stroke="none"/>
<path class="l" d="M697.1,549.5L702.7,553.2M692.9,566.7L698.5,570.4"/>
<ellipse class="w" cx="700.6" cy="561.8" rx="6" ry="8.8" transform="rotate(14 700.6 561.8)"/>
<ellipse class="l" cx="700.7" cy="562.3" rx="3.1" ry="5" transform="rotate(14 700.7 562.3)"/>
<path class="t" d="M699,558Q697.8,562 699.6,566.4"/>
<path class="ld" d="M708.4,553.2H732.5"/>
</g>
<!-- 2 clip -->
<g id="p2">
<path class="l" d="M725.8,591.5L721.6,570Q721,564.8 724.3,564.2Q727.5,564.6 727,569.6Q729.8,571.8 728.6,575.8L734.4,588.6"/>
<path class="l" d="M727.2,591.2L723,569.8Q722.8,566 724.6,566Q726,566.6 725.4,570.6Q728,573 727,576.6L732.8,589.4"/>
<path class="ld" d="M671.2,581.4H721"/>
</g>
<path class="ld" d="M664.5,532.4L677.6,545.2M680,547L691.6,555.4M704.6,565.2L734.5,588"/>
<!-- 1 hose -->
<g id="p1">
<path class="w" d="M808.6,560.4Q807.4,557.4 811.2,555.6Q815.5,553.6 818.5,556L843.3,573.1Q848.5,578 851.5,585.9Q852.4,591 847,597L839.6,601.5L747.8,644.7L755.1,650.2Q758.5,653.5 757.5,656.5L745,661.8Q741,660.5 738.6,656.5L730.3,641Q729.5,636.5 736.7,633.7L832.3,589.6L835.9,585L810.5,568.5Q808,565.5 808.6,560.4Z"/>
<ellipse class="w" cx="750.6" cy="656.6" rx="8" ry="4.6" transform="rotate(-20 750.6 656.6)"/>
<ellipse class="l" cx="750.8" cy="656.9" rx="6" ry="3.2" transform="rotate(-20 750.8 656.9)"/>
<path class="ld" d="M772.6,634.2H806.5"/>
</g>

<!-- 6 gasket -->
<g id="p6" class="l">
<path d="M270,524L275,523.4L280.5,522.5L285,528.5L289.5,534.5L288.8,539.8L294,544.2L304.5,549.5L309.8,555.5L308.2,563L315,567.5L360,597.5L378,598.2L388.5,596L420,596.8L445,594.5L468.4,592.7L493.6,591.8L515.2,568.4L535,554L544,536L549.4,518L558.4,509L556,506L540,496.4L536.8,490L541.6,485.2L538.4,480.4L528.8,474L516,469.2L495.2,459.6"/>
<path d="M289.5,516.5L336,567.5L354,578L372,587L388.5,589.2L420,591.5L445,586.4L490,575.6L515.2,561.2L529.6,548.6L536.8,532.4L536.8,521.6L532,506L525.6,491.6L516,478.8L503.2,469.2L487.2,461.2"/>
<path d="M281.4,521L288.4,529.1M291,516.1L296,521"/>
<path d="M294,539.8L303,537.2L306,540.8L297,543.5ZM314.2,563.8L322.5,561.2L325.5,564.5L318,566.8ZM364.5,593.8L372,591.2L375.8,594.5L369,596.8ZM478.3,587.8L486.4,585.5L489.1,589.1L481,591.4ZM542.4,507.6L550.4,504.4L553.6,508.4L545.6,511.6ZM524.8,480.4L533.6,478L536,482L527.2,484.4Z"/>
<path d="M334.5,574.2Q336,572.6 339.8,573.5L354,581.8Q353.6,584.8 349.5,584.8L334.5,576.5Z"/>
<path class="ld" d="M445,594.9L473.8,614.3"/>
</g>
<!-- 8 dowel / washer -->
<g id="p8">
<path class="t" d="M443.7,483.6V506"/>
<ellipse class="l" cx="442.4" cy="508.3" rx="8.2" ry="4.6"/>
<ellipse class="l" cx="442.4" cy="508.3" rx="5.6" ry="3"/>
</g>

<path class="ld" d="M135.5,315.4H172"/>

</g>
<!-- WATERMARK -->
<g id="wm" transform="translate(373.2,521) rotate(-48) scale(1.008,1)">
<text x="0" y="0" font-family="Liberation Sans, sans-serif" font-size="68.5" fill="#b6d089" fill-opacity="0.93">HobbyStore.it</text>
</g>

<g id="labels">
<path class="g1" transform="translate(26.10,42.00) scale(0.01025,-0.01025)" d="M763 0H583V1147Q518 1085 412.5 1023T223 930V1104Q373 1175 485 1275T644 1470H763Z"/><path class="g1" transform="translate(37.78,42.00) scale(0.01025,-0.01025)" d="M763 0H583V1147Q518 1085 412.5 1023T223 930V1104Q373 1175 485 1275T644 1470H763Z"/>
<path class="g1" transform="translate(309.50,45.00) scale(0.01025,-0.01025)" d="M763 0H583V1147Q518 1085 412.5 1023T223 930V1104Q373 1175 485 1275T644 1470H763Z"/><text class="n" x="321.18" y="45.00">4</text>
<path class="g1" transform="translate(523.00,68.80) scale(0.01025,-0.01025)" d="M763 0H583V1147Q518 1085 412.5 1023T223 930V1104Q373 1175 485 1275T644 1470H763Z"/><text class="n" x="534.68" y="68.80">3</text>
<path class="g1" transform="translate(670.80,23.20) scale(0.01025,-0.01025)" d="M763 0H583V1147Q518 1085 412.5 1023T223 930V1104Q373 1175 485 1275T644 1470H763Z"/><text class="n" x="682.48" y="23.20">0</text>
<path class="g1" transform="translate(752.50,106.50) scale(0.01025,-0.01025)" d="M763 0H583V1147Q518 1085 412.5 1023T223 930V1104Q373 1175 485 1275T644 1470H763Z"/><text class="n" x="764.18" y="106.50">2</text>
<path class="g1" transform="translate(723.50,251.20) scale(0.01025,-0.01025)" d="M763 0H583V1147Q518 1085 412.5 1023T223 930V1104Q373 1175 485 1275T644 1470H763Z"/><text class="n" x="735.18" y="251.20">0</text>
<text class="n" x="724.50" y="277.70">9</text>
<path class="g1" transform="translate(182.80,131.60) scale(0.01025,-0.01025)" d="M763 0H583V1147Q518 1085 412.5 1023T223 930V1104Q373 1175 485 1275T644 1470H763Z"/><text class="n" x="194.48" y="131.60">5</text>
<path class="g1" transform="translate(143.80,203.60) scale(0.01025,-0.01025)" d="M763 0H583V1147Q518 1085 412.5 1023T223 930V1104Q373 1175 485 1275T644 1470H763Z"/><text class="n" x="155.48" y="203.60">6</text>
<path class="g1" transform="translate(117.00,318.20) scale(0.01025,-0.01025)" d="M763 0H583V1147Q518 1085 412.5 1023T223 930V1104Q373 1175 485 1275T644 1470H763Z"/><text class="n" x="128.68" y="318.20">7</text>
<text class="n" x="674.30" y="493.00">5</text>
<text class="n" x="636.90" y="555.20">4</text>
<text class="n" x="735.20" y="559.30">3</text>
<text class="n" x="659.30" y="584.00">2</text>
<path class="g1" transform="translate(810.80,635.60) scale(0.01025,-0.01025)" d="M763 0H583V1147Q518 1085 412.5 1023T223 930V1104Q373 1175 485 1275T644 1470H763Z"/>
<text class="n" x="475.80" y="512.20">8</text>
<text class="n" x="445.20" y="549.80">7</text>
<text class="n" x="475.80" y="620.20">6</text>
<use href="#ast" x="62.5" y="22.5"/>
<use href="#ast" x="303" y="34"/>
<use href="#ast" x="760" y="161.5"/>
<use href="#ast" x="497.5" y="608"/>
</g>
</svg>
</body>
</html>
